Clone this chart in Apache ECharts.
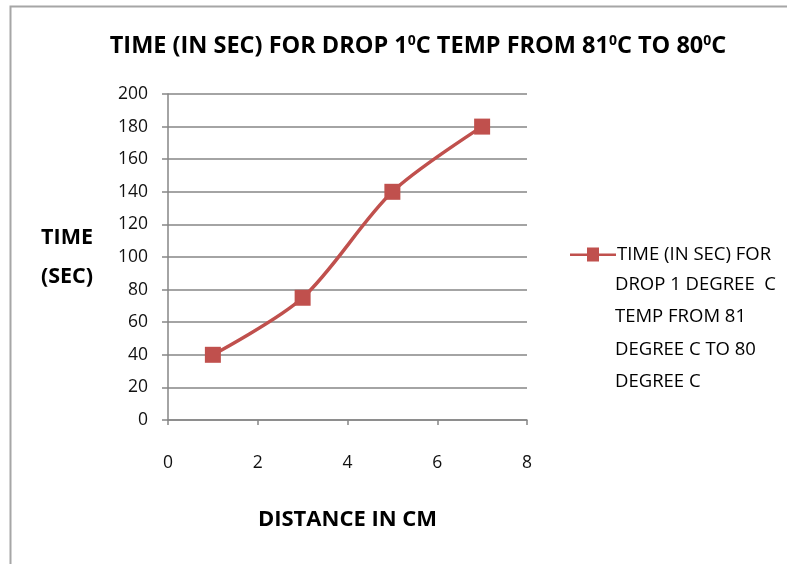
<!DOCTYPE html>
<html><head><meta charset="utf-8">
<script src="https://cdn.jsdelivr.net/npm/echarts@6/dist/echarts.min.js"></script>
<style>html,body{margin:0;padding:0;background:#fff}#c{width:787px;height:564px}</style>
</head><body><div id="c"></div>
<script>
var distances = [1, 3, 5, 7];
var times = [40, 75, 140, 180];
var legendLines = ['TIME (IN SEC) FOR', 'DROP 1 DEGREE  C', 'TEMP FROM 81', 'DEGREE C TO 80', 'DEGREE C'];
var seriesName = legendLines.join(' ');
var font = '"Open Sans", "Liberation Sans", sans-serif';
var chart = echarts.init(document.getElementById('c'), null, {renderer: 'canvas'});
chart.setOption({
  backgroundColor: '#fff',
  animation: false,
  graphic: [{
    type: 'rect', left: 8, top: 4, shape: {width: 900, height: 700},
    style: {fill: 'none', stroke: '#a6a6a6', lineWidth: 2}, silent: true
  }, {
    type: 'text', left: 615, top: 268,
    style: {
      text: legendLines.slice(1).join('\n'),
      font: '18.5px "Open Sans", sans-serif', fill: '#000', lineHeight: 32.5
    }, silent: true
  }],
  title: {
    text: '{m|TIME (IN SEC) FOR DROP 1}{s|0}{m|C TEMP FROM 81}{s|0}{m|C TO 80}{s|0}{m|C}',
    left: 413, textAlign: 'center', top: 29,
    textStyle: {
      rich: {
        m: {fontFamily: font, fontWeight: 'bold', fontSize: 23.5, color: '#000'},
        s: {fontFamily: font, fontWeight: 'bold', fontSize: 14, color: '#000', verticalAlign: 'top', padding: [0, 0, 10, 0]}
      }
    }
  },
  grid: {left: 168, top: 94, right: 260, bottom: 144},
  legend: {
    left: 565, top: 240, orient: 'vertical',
    itemWidth: 46, itemHeight: 14,
    data: [{name: seriesName, icon: 'path://M0,6L17,6L17,0L29,0L29,6L46,6L46,8.5L29,8.5L29,14L17,14L17,8.5L0,8.5Z'}],
    formatter: function () { return legendLines[0]; },
    textStyle: {fontFamily: font, fontSize: 18.5, color: '#000', padding: [0, 0, 0, -4]}
  },
  xAxis: {
    type: 'value', min: 0, max: 8, interval: 2,
    name: 'DISTANCE IN CM', nameLocation: 'middle', nameGap: 89,
    nameTextStyle: {fontFamily: font, fontWeight: 'bold', fontSize: 22, color: '#000'},
    axisLine: {show: true, onZero: false, lineStyle: {color: '#868686', width: 1.5}},
    axisTick: {show: true, length: 5, inside: false, lineStyle: {color: '#868686', width: 1.5}},
    axisLabel: {fontFamily: font, fontSize: 17.5, color: '#111', margin: 34},
    splitLine: {show: false}
  },
  yAxis: {
    type: 'value', min: 0, max: 200, interval: 20,
    name: 'TIME\n(SEC)', nameLocation: 'middle', nameGap: 101, nameRotate: 0,
    nameTextStyle: {fontFamily: font, fontWeight: 'bold', fontSize: 21.5, color: '#000', lineHeight: 39, align: 'center'},
    axisLine: {show: true, lineStyle: {color: '#868686', width: 1.5}},
    axisTick: {show: true, length: 6, lineStyle: {color: '#868686', width: 1.5}},
    axisLabel: {fontFamily: font, fontSize: 17.5, color: '#111', margin: 20},
    splitLine: {show: true, lineStyle: {color: '#868686', width: 1.5}}
  },
  series: [{
    name: seriesName,
    type: 'line', smooth: 0.3,
    data: distances.map(function (d, i) { return [d, times[i]]; }),
    symbol: 'rect', symbolSize: 16,
    itemStyle: {color: '#C0504D'},
    lineStyle: {color: '#C0504D', width: 3.5}
  }]
});
</script></body></html>
